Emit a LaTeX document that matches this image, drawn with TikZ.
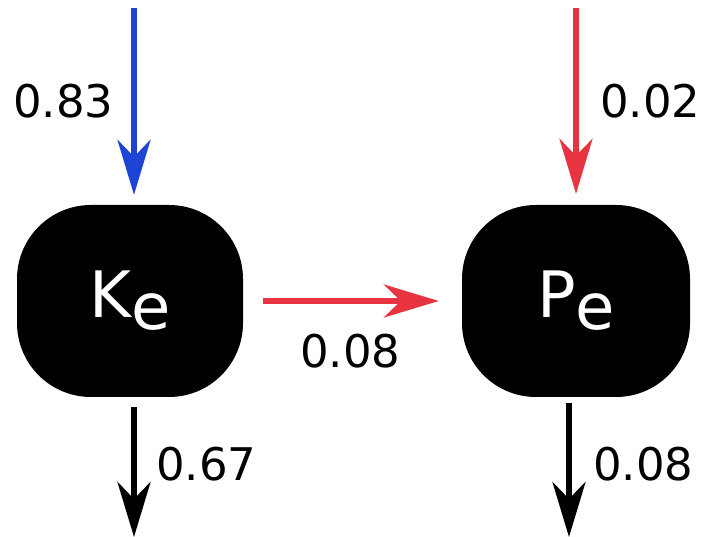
\documentclass[tikz,border=0pt]{standalone}
\usepackage{fontspec}
\setmainfont{DejaVu Sans}
\usetikzlibrary{arrows.meta}
\definecolor{flowblue}{RGB}{30,68,214}
\definecolor{flowred}{RGB}{232,52,64}
\tikzset{
  compbox/.style={fill=black, draw=none, rounded corners=74pt, minimum height=192pt,
    inner sep=0pt, text=white, font=\fontsize{64}{70}\selectfont},
  flow/.style={line width=6pt, -{Stealth[length=55pt,width=33pt,inset=17pt]}},
  lbl/.style={anchor=base west, inner sep=0pt, font=\fontsize{45}{54}\selectfont}
}
\begin{document}
\begin{tikzpicture}[x=1pt,y=-1pt]
\useasboundingbox (0,0) rectangle (702,537);
\node[compbox, minimum width=226pt] (Ke) at (130,301) {K\raisebox{-12pt}{e}};
\node[compbox, minimum width=228pt] (Pe) at (576,301) {P\raisebox{-12pt}{e}};
\coordinate (inK) at (134,8);
\coordinate (inP) at (576,8);
\coordinate (outK) at (134,537);
\coordinate (outP) at (569,537);
\draw[flow, flowblue, shorten >=10pt] (inK) -- (inK |- Ke.north);
\draw[flow, flowred, shorten >=11pt] (inP) -- (inP |- Pe.north);
\draw[flow, flowred, shorten <=20pt, shorten >=23pt] (Ke.east) -- (Pe.west);
\draw[flow, black, shorten <=10pt] (outK |- Ke.south) -- (outK);
\draw[flow, black, shorten <=6pt] (outP |- Pe.south) -- (outP);
\node[lbl] (l1) at (13,118) {0.83};
\node[lbl] (l2) at (600,118) {0.02};
\node[lbl] (l3) at (300,368) {0.08};
\node[lbl] (l4) at (156,480) {0.67};
\node[lbl] (l5) at (593,480) {0.08};
\end{tikzpicture}
\end{document}
